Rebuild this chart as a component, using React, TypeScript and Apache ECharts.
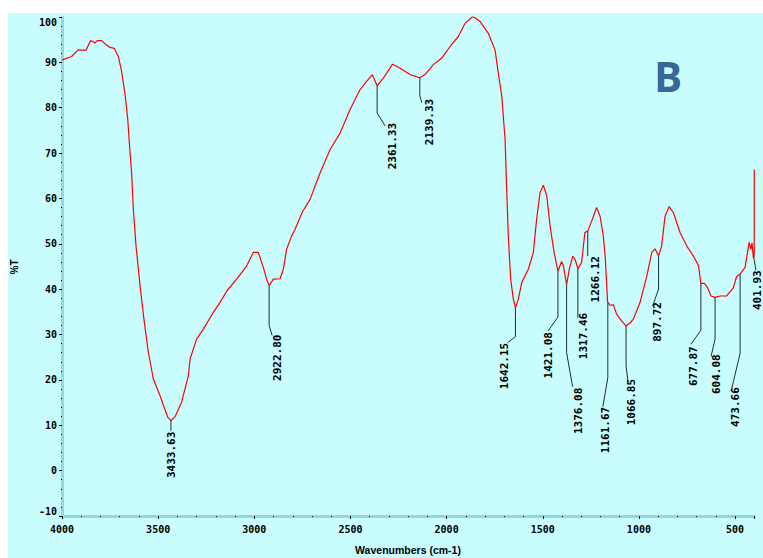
import React, { useEffect, useRef } from 'react';
import * as echarts from 'echarts';

// Spectrum (wavenumber cm-1, %T)
const wavenumbers = [
  4000, 3995, 3950, 3917, 3875, 3851, 3828, 3816, 3794, 3768, 3750, 3728, 3707, 3690, 3672, 3658, 3650, 3638,
  3629, 3615, 3594, 3574, 3551, 3525, 3490, 3473, 3450, 3434, 3412, 3378, 3343, 3334, 3300, 3265, 3213, 3178,
  3143, 3092, 3040, 3005, 2979, 2953, 2936, 2923, 2901, 2866, 2849, 2832, 2806, 2788, 2750, 2710, 2658, 2606,
  2554, 2502, 2450, 2416, 2386, 2361, 2329, 2281, 2242, 2190, 2139, 2112, 2069, 2026, 1982, 1939, 1904, 1864,
  1826, 1783, 1748, 1731, 1713, 1696, 1688, 1679, 1667, 1653, 1642, 1627, 1609, 1575, 1549, 1532, 1514, 1497,
  1479, 1462, 1441, 1421, 1402, 1393, 1376, 1362, 1344, 1332, 1317, 1298, 1281, 1266, 1242, 1220, 1202, 1185,
  1175, 1163, 1150, 1133, 1116, 1090, 1067, 1045, 1029, 994, 959, 933, 916, 898, 882, 864, 843, 821, 786, 751,
  717, 690, 678, 660, 645, 625, 604, 578, 544, 509, 492, 474, 448, 427, 418, 412, 405, 402.5, 400.5, 400,
];
const transmittance = [
  90.5, 90.6, 91.3, 92.7, 92.7, 94.8, 94.3, 94.8, 94.8, 93.8, 93.3, 93.1, 91.3, 88.0, 82.9, 77.4, 72.3, 65.7,
  57.6, 49.5, 40.7, 33.4, 26.1, 20.2, 16.5, 14.4, 11.8, 11.0, 11.9, 15.1, 20.9, 24.6, 29.0, 31.2, 34.9, 37.1,
  39.6, 42.2, 45.1, 48.1, 48.1, 44.8, 42.2, 40.8, 42.2, 42.3, 44.4, 48.8, 51.7, 53.2, 57.0, 59.8, 65.6, 70.8,
  74.4, 79.6, 84.0, 85.8, 87.3, 84.8, 86.5, 89.6, 88.7, 87.3, 86.6, 87.3, 89.5, 90.9, 93.5, 95.7, 98.6, 100.1,
  99.0, 96.4, 92.7, 87.6, 82.5, 73.0, 62.5, 51.7, 42.2, 37.8, 35.9, 37.8, 41.5, 44.4, 48.1, 55.4, 61.3, 62.9,
  60.5, 53.9, 48.1, 44.0, 46.1, 45.2, 41.0, 44.4, 47.3, 46.6, 44.5, 45.9, 52.5, 52.8, 55.4, 58.0, 56.1, 51.7,
  47.0, 37.2, 36.4, 36.6, 34.5, 33.0, 31.9, 32.6, 33.4, 37.1, 42.9, 48.1, 48.9, 47.3, 49.5, 56.1, 58.2, 56.9, 52.5, 49.5,
  47.3, 45.2, 41.3, 41.3, 40.5, 38.5, 38.2, 38.5, 38.5, 40.3, 42.8, 43.3, 44.8, 50.3, 48.8, 50.2, 47.0, 46.8, 47.5, 66.4,
];

// Peak annotations
const peakWavenumbers = [3433.63, 2922.8, 2361.33, 2139.33, 1642.15, 1421.08, 1376.08, 1317.46, 1266.12, 1161.67, 1066.85, 897.72, 677.87, 604.08, 473.66, 401.93];
const peakTransmittance = [11.0, 40.8, 84.8, 86.6, 35.9, 44.0, 41.0, 44.5, 52.8, 37.0, 31.9, 47.3, 41.3, 38.2, 43.3, 46.8];
const peakLabels = ['3433.63', '2922.80', '2361.33', '2139.33', '1642.15', '1421.08', '1376.08', '1317.46', '1266.12', '1161.67', '1066.85', '897.72', '677.87', '604.08', '473.66', '401.93'];

// Axis titles
const xTitle = 'Wavenumbers (cm-1)';
const yTitle = '%T';
const panelLetter = 'B';

// Leader-line layout in pixels relative to the peak: [verticalEnd, bendDx, bendDy, labelDx, labelDy]
const leaderLayout = [
  [10, 0, 10, 1, 11],
  [40, 3, 50, 8, 49],
  [27, 8, 40, 15, 37],
  [18, 2, 25, 10, 21],
  [29, -8, 35, -11, 35],
  [46, -10, 60, -9, 61],
  [68, 6, 102, 12, 103],
  [49, 0, 49, 6, 44],
  [25, 0, 25, 8, 25],
  [75, -5, 104, -2, 104],
  [40, 2, 56, 5, 53],
  [33, -6, 50, -1, 46],
  [47, -10, 61, -7, 63],
  [42, -4, 59, 1, 57],
  [79, -9, 117, -5, 113],
  [0, 2, 12, 4, 12],
];

const axisLabelFont = { fontFamily: 'DejaVu Sans Mono', fontWeight: 'bold' as const, fontSize: 10, color: '#000' };

export default function App() {
  const ref = useRef<HTMLDivElement>(null);
  useEffect(() => {
    if (!ref.current) return;
    const chart = echarts.init(ref.current, undefined, { renderer: 'svg' });
    const spectrum = wavenumbers.map((w, i) => [w, transmittance[i]]);
    const peaks = peakWavenumbers.map((w, i) => [w, peakTransmittance[i], i]);
    chart.setOption({
      animation: false,
      backgroundColor: 'transparent',
      grid: { left: 54, top: 4, right: 8.7, bottom: 42, containLabel: false, outerBoundsMode: 'none' },
      xAxis: {
        type: 'value',
        min: 400,
        max: 4000,
        inverse: true,
        splitNumber: 7,
        axisLine: { onZero: false, lineStyle: { color: '#96D8D8', width: 3 } },
        axisTick: { show: true, length: 3, lineStyle: { color: '#000', width: 1 } },
        minorTick: { show: true, splitNumber: 5, length: 1, lineStyle: { color: '#000', width: 1 } },
        axisLabel: { ...axisLabelFont, margin: 8, showMinLabel: false, formatter: (v: number) => String(v) },
        splitLine: { show: false },
      },
      yAxis: {
        type: 'value',
        min: -10,
        max: 100,
        interval: 10,
        axisLine: { onZero: false, lineStyle: { color: '#96D8D8', width: 3 } },
        axisTick: { show: true, length: 3, lineStyle: { color: '#000', width: 1 } },
        minorTick: { show: true, splitNumber: 5, length: 1, lineStyle: { color: '#000', width: 1 } },
        axisLabel: {
          ...axisLabelFont,
          margin: 5,
          formatter: (v: number) => String(v),
          verticalAlignMaxLabel: 'top',
          verticalAlignMinLabel: 'bottom',
        },
        splitLine: { show: false },
      },
      graphic: [
        {
          type: 'text',
          x: 660,
          y: 62,
          style: {
            text: panelLetter,
            fill: '#3A6698',
            font: 'bold 42px "Open Sans"',
            align: 'center',
            verticalAlign: 'middle',
          },
        },
        {
          type: 'text',
          x: 400,
          y: 537,
          style: {
            text: xTitle,
            fill: '#000',
            font: 'bold 10.5px "Liberation Sans"',
            align: 'center',
            verticalAlign: 'middle',
          },
        },
        {
          type: 'text',
          x: 6,
          y: 254,
          rotation: Math.PI / 2,
          style: {
            text: yTitle,
            fill: '#000',
            font: 'bold 10px "Liberation Sans"',
            align: 'center',
            verticalAlign: 'middle',
          },
        },
      ],
      series: [
        {
          type: 'line',
          data: spectrum,
          showSymbol: false,
          symbol: 'none',
          lineStyle: { color: '#FF0000', width: 1.2 },
          z: 3,
        },
        {
          type: 'custom',
          data: peaks,
          clip: false,
          z: 4,
          encode: { x: 0, y: 1 },
          renderItem: (params: any, api: any) => {
            const idx = api.value(2);
            const p = api.coord([api.value(0), api.value(1)]);
            const L = leaderLayout[idx];
            return {
              type: 'group',
              children: [
                {
                  type: 'polyline',
                  shape: {
                    points: [
                      [p[0], p[1]],
                      [p[0], p[1] + L[0]],
                      [p[0] + L[1], p[1] + L[2]],
                    ],
                  },
                  style: { stroke: '#1E2E2E', lineWidth: 1, fill: null },
                },
                {
                  type: 'text',
                  x: p[0] + L[3],
                  y: p[1] + L[4],
                  rotation: Math.PI / 2,
                  style: {
                    text: peakLabels[idx],
                    fill: '#000',
                    font: 'bold 11px "DejaVu Sans Mono"',
                    align: 'right',
                    verticalAlign: 'middle',
                  },
                },
              ],
            };
          },
        },
      ],
    });
    return () => chart.dispose();
  }, []);
  return (
    <div style={{ position: 'fixed', left: 0, top: 0, width: 763, height: 558, background: '#fff' }}>
      <div
        ref={ref}
        style={{ position: 'absolute', left: 8, top: 13, width: 755, height: 545, background: '#C9FDFD' }}
      />
    </div>
  );
}
